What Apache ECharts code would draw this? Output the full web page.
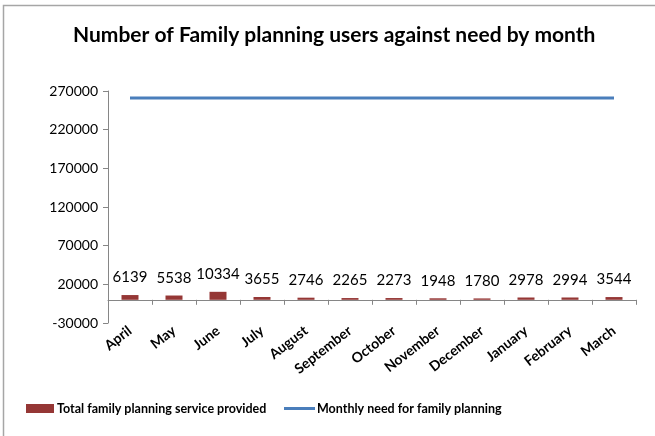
<!DOCTYPE html>
<html><head><meta charset="utf-8">
<script src="https://cdn.jsdelivr.net/npm/echarts@6/dist/echarts.min.js"></script>
<style>html,body{margin:0;padding:0;background:#fff}#c{width:655px;height:436px}</style>
</head><body><div id="c"></div>
<script>
const months = ["April","May","June","July","August","September","October","November","December","January","February","March"];
const provided = [6139,5538,10334,3655,2746,2265,2273,1948,1780,2978,2994,3544];
const need = [261000,261000,261000,261000,261000,261000,261000,261000,261000,261000,261000,261000];
const yMin = -30000, yMax = 270000, yStep = 50000;
const F = "Lato, 'Liberation Sans', sans-serif";
const chart = echarts.init(document.getElementById('c'), null, {renderer:'canvas'});
chart.setOption({
  animation:false,
  backgroundColor:'#fff',
  graphic:[{type:'rect',shape:{x:3.5,y:5.5,width:700,height:500},style:{fill:'none',stroke:'#a6a6a6',lineWidth:1.5},silent:true}],
  title:{text:'Number of Family planning users against need by month',left:68,top:20,
    textStyle:{fontFamily:F,fontSize:21,fontWeight:'bold',color:'#000'}},
  legend:[
    {data:['Total family planning service provided'],left:26,top:402,padding:0,itemWidth:28,itemHeight:9,icon:'rect',
     textStyle:{fontFamily:F,fontSize:12.5,fontWeight:'bold',color:'#000',padding:[0,0,0,-2]}},
    {data:['Monthly need for family planning'],left:284,top:402,padding:0,itemWidth:31,itemHeight:3,icon:'rect',
     textStyle:{fontFamily:F,fontSize:12.5,fontWeight:'bold',color:'#000',padding:[0,0,0,-3]}}
  ],
  grid:{left:108,right:19,top:91,bottom:113,containLabel:false},
  xAxis:{type:'category',data:months,
    axisLine:{lineStyle:{color:'#868686'}},
    axisTick:{show:true,length:5,lineStyle:{color:'#868686'}},
    axisLabel:{rotate:38,interval:0,margin:6,fontFamily:F,fontSize:14,fontWeight:'bold',color:'#000'}},
  yAxis:{type:'value',min:yMin,max:yMax,interval:yStep,
    axisLine:{show:true,lineStyle:{color:'#868686'}},
    axisTick:{show:true,length:5,lineStyle:{color:'#868686'}},
    splitLine:{show:false},
    axisLabel:{margin:10,fontFamily:F,fontSize:14,color:'#000',formatter:v=>String(v)}},
  series:[
    {name:'Total family planning service provided',type:'bar',data:provided,barWidth:17,
     itemStyle:{color:'#953735'},
     label:{show:true,position:'top',distance:10,fontFamily:F,fontSize:15,color:'#000'}},
    {name:'Monthly need for family planning',type:'line',data:need,symbol:'none',
     lineStyle:{color:'#4A7EBB',width:3},itemStyle:{color:'#4A7EBB'}}
  ]
});
</script></body></html>
